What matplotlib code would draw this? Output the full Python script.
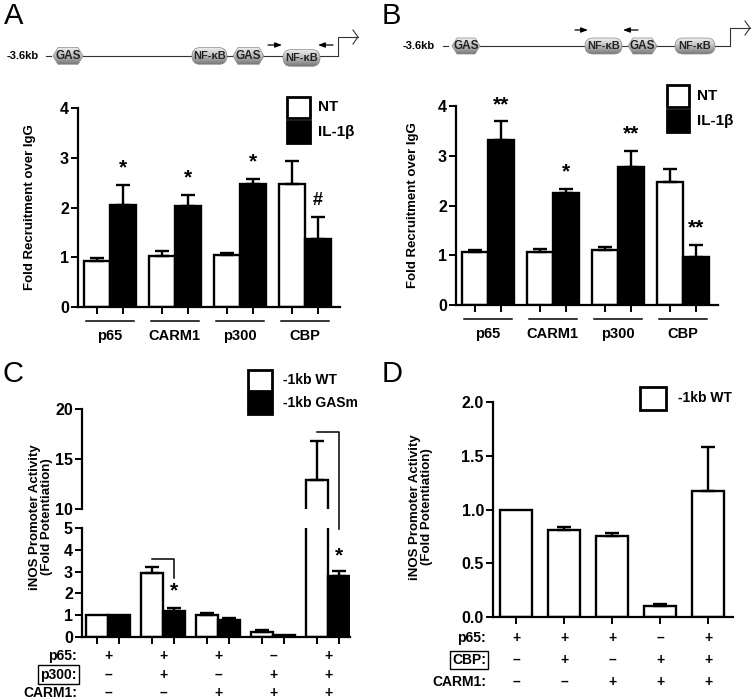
import matplotlib
matplotlib.use("Agg")
import matplotlib.pyplot as plt
import matplotlib.transforms as mtransforms
from matplotlib.patches import Rectangle, Polygon, FancyBboxPatch
from matplotlib.colors import LinearSegmentedColormap
import numpy as np

plt.rcParams['font.family'] = ['Liberation Sans', 'DejaVu Sans']
plt.rcParams['font.weight'] = 'bold'

# ---------------------------------------------------------------------
# data
groups_ab = ["p65", "CARM1", "p300", "CBP"]

a_nt = [0.92, 1.02, 1.05, 2.47]
a_nt_err = [0.06, 0.10, 0.04, 0.46]
a_il = [2.06, 2.03, 2.47, 1.36]
a_il_err = [0.40, 0.22, 0.10, 0.45]
a_marks = ["*", "*", "*", "#"]

b_nt = [1.07, 1.06, 1.10, 2.47]
b_nt_err = [0.04, 0.06, 0.07, 0.27]
b_il = [3.31, 2.25, 2.78, 0.97]
b_il_err = [0.38, 0.08, 0.31, 0.24]
b_marks = ["**", "*", "**", "**"]

c_wt = [1.0, 2.92, 1.03, 0.22, 12.9]
c_wt_err = [0.0, 0.30, 0.09, 0.11, 3.9]
c_gas = [1.0, 1.18, 0.78, 0.07, 2.8]
c_gas_err = [0.0, 0.17, 0.10, 0.0, 0.25]
c_rows = ["p65:", "p300:", "CARM1:"]
c_signs = [["+", "+", "+", "\u2013", "+"],
           ["\u2013", "+", "\u2013", "+", "+"],
           ["\u2013", "\u2013", "+", "+", "+"]]

d_wt = [1.0, 0.81, 0.75, 0.10, 1.17]
d_wt_err = [0.0, 0.03, 0.03, 0.02, 0.41]
d_rows = ["p65:", "CBP:", "CARM1:"]
d_signs = [["+", "+", "+", "\u2013", "+"],
           ["\u2013", "+", "\u2013", "+", "+"],
           ["\u2013", "\u2013", "+", "+", "+"]]

# ---------------------------------------------------------------------
W, H = 754, 700
fig = plt.figure(figsize=(W / 100, H / 100), dpi=100)


def px_axes(left, top, right, bottom):
    """axes placed by pixel box"""
    return fig.add_axes([left / W, 1 - bottom / H, (right - left) / W, (bottom - top) / H])


def style_axes(ax, bottom=True):
    for s in ["top", "right"]:
        ax.spines[s].set_visible(False)
    ax.spines["left"].set_linewidth(1.6)
    ax.spines["bottom"].set_linewidth(1.6)
    if not bottom:
        ax.spines["bottom"].set_visible(False)
        ax.tick_params(axis="x", bottom=False, labelbottom=False)
    ax.tick_params(axis="y", length=5, width=1.4, labelsize=11.5, pad=1.5)
    ax.tick_params(axis="x", length=5, width=1.4, labelbottom=False)


def draw_bars(ax, pos, vals, errs, color, width):
    ax.bar(pos, vals, width, color=color, edgecolor="black", linewidth=1.7, zorder=2)
    pos = np.asarray(pos, float)
    vals = np.asarray(vals, float)
    errs = np.asarray(errs, float)
    m = errs > 0
    ax.errorbar(pos[m], vals[m], yerr=[np.zeros(m.sum()), errs[m]], fmt="none",
                ecolor="black", elinewidth=1.7, capsize=5, capthick=1.7, zorder=3)


def below(ax, px):
    return mtransforms.offset_copy(ax.get_xaxis_transform(), fig=fig, x=0, y=-px, units="dots")


def mark(ax, x, y, s, dy=17):
    ax.annotate(s, (x, y), xytext=(0, dy), textcoords="offset pixels", ha="center",
                va="center", fontsize=15 if "*" in s else 13, annotation_clip=False)


def ab_panel(box, nt, nt_err, il, il_err, marks):
    ax = px_axes(*box)
    style_axes(ax)
    x = np.arange(len(groups_ab))
    draw_bars(ax, x - 0.2, nt, nt_err, "white", 0.4)
    draw_bars(ax, x + 0.2, il, il_err, "black", 0.4)
    for i, s in enumerate(marks):
        mark(ax, x[i] + 0.2, il[i] + il_err[i], s, dy=17 if s != "#" else 16)
    ax.set_xlim(-0.49, 3.54)
    ax.set_ylim(0, 4)
    ax.set_yticks([0, 1, 2, 3, 4])
    ax.set_xticks(np.concatenate([x - 0.2, x + 0.2]))
    for i, g in enumerate(groups_ab):
        ax.plot([x[i] - 0.36, x[i] + 0.37], [0, 0], color="black", lw=1.1,
                transform=below(ax, 14), clip_on=False)
        ax.text(x[i], 0, g, transform=below(ax, 29), ha="center", va="center", fontsize=10.5)
    return ax


ax_a = ab_panel((78, 108, 340, 307), a_nt, a_nt_err, a_il, a_il_err, a_marks)
ax_b = ab_panel((456, 106, 718, 305), b_nt, b_nt_err, b_il, b_il_err, b_marks)

# ---------------------------------------------------------------------
# panel C, broken axis
ax_cu = px_axes(82, 409, 350, 509)
ax_cl = px_axes(82, 528, 350, 637)
style_axes(ax_cu, bottom=False)
style_axes(ax_cl)
xc = np.arange(len(c_wt))
for ax in (ax_cu, ax_cl):
    draw_bars(ax, xc - 0.2, c_wt, c_wt_err, "white", 0.4)
    draw_bars(ax, xc + 0.2, c_gas, c_gas_err, "black", 0.4)
    ax.set_xlim(-0.48, 4.4)
ax_cu.set_ylim(10, 20)
ax_cu.set_yticks([10, 15, 20])
ax_cl.set_ylim(0, 5)
ax_cl.set_yticks([0, 1, 2, 3, 4, 5])
ax_cl.set_xticks(np.concatenate([xc - 0.2, xc + 0.2]))

# significance brackets
ax_cl.plot([xc[1] - 0.2, xc[1] + 0.2, xc[1] + 0.2], [3.58, 3.58, 2.7], color="black", lw=1.1, zorder=4)
mark(ax_cl, xc[1] + 0.2, c_gas[1] + c_gas_err[1], "*", dy=17)
y_up = ax_cl.transData.inverted().transform(ax_cu.transData.transform((0, 17.7)))[1]
ax_cl.plot([xc[4] - 0.2, xc[4] + 0.2, xc[4] + 0.2], [y_up, y_up, 4.95], color="black", lw=1.1,
           clip_on=False, zorder=4)
mark(ax_cl, xc[4] + 0.2, c_gas[4] + c_gas_err[4], "*", dy=15)

for r, signs in enumerate(c_signs):
    for i, s in enumerate(signs):
        ax_cl.text(xc[i], 0, s, transform=below(ax_cl, 19 + 18.5 * r), ha="center", va="center", fontsize=10)

# ---------------------------------------------------------------------
# panel D
ax_d = px_axes(493, 402, 733, 617)
style_axes(ax_d)
xd = np.arange(len(d_wt))
draw_bars(ax_d, xd, d_wt, d_wt_err, "white", 0.67)
ax_d.set_xlim(-0.48, 4.52)
ax_d.set_ylim(0, 2)
ax_d.set_yticks([0, 0.5, 1.0, 1.5, 2.0])
ax_d.set_yticklabels(["0.0", "0.5", "1.0", "1.5", "2.0"])
ax_d.set_xticks(xd)
for r, signs in enumerate(d_signs):
    for i, s in enumerate(signs):
        ax_d.text(xd[i], 0, s, transform=below(ax_d, 21 + 22 * r), ha="center", va="center", fontsize=10)

# ---------------------------------------------------------------------
# overlay in pixel coordinates
ov = fig.add_axes([0, 0, 1, 1])
ov.set_xlim(0, W)
ov.set_ylim(H, 0)
ov.axis("off")

for s, x, y in [("A", 4, 16), ("B", 382, 16), ("C", 2, 374), ("D", 382, 374)]:
    ov.text(x, y, s, fontsize=21, fontweight="normal", va="center", ha="left")

ov.text(30, 207, "Fold Recruitment over IgG", rotation=90, ha="center", va="center", fontsize=9.5)
ov.text(413, 205, "Fold Recruitment over IgG", rotation=90, ha="center", va="center", fontsize=9.5)
ov.text(41, 517, "iNOS Promoter Activity\n(Fold Potentiation)", rotation=90, ha="center",
        va="center", fontsize=9.5, linespacing=1.0)
ov.text(421, 507, "iNOS Promoter Activity\n(Fold Potentiation)", rotation=90, ha="center",
        va="center", fontsize=9.5, linespacing=1.0)


def legend_box(x, y, w, h, fc):
    ov.add_patch(Rectangle((x, y), w, h, facecolor=fc, edgecolor="black", lw=2.0))


legend_box(287, 97, 23, 21, "white")
legend_box(287, 121, 23, 22, "black")
ov.text(318, 107, "NT", va="center", fontsize=11)
ov.text(318, 132, "IL-1\u03b2", va="center", fontsize=11)
legend_box(667, 85, 22, 22, "white")
legend_box(667, 110, 22, 22, "black")
ov.text(697, 96, "NT", va="center", fontsize=11)
ov.text(697, 121, "IL-1\u03b2", va="center", fontsize=11)
legend_box(248, 370, 24, 21, "white")
legend_box(248, 393, 24, 21, "black")
ov.text(283, 380, "-1kb WT", va="center", fontsize=10)
ov.text(283, 403, "-1kb GASm", va="center", fontsize=10)
legend_box(640, 387, 26, 23, "white")
ov.text(678, 398, "-1kb WT", va="center", fontsize=10)

# row labels under C and D
for r, lab in enumerate(c_rows):
    box = dict(boxstyle="square,pad=0.15", fc="none", ec="black", lw=1.0) if lab == "p300:" else None
    ov.text(77, 656 + 18.5 * r, lab, ha="right", va="center", fontsize=10, bbox=box)
for r, lab in enumerate(d_rows):
    box = dict(boxstyle="square,pad=0.15", fc="none", ec="black", lw=1.0) if lab == "CBP:" else None
    ov.text(486, 638 + 22 * r, lab, ha="right", va="center", fontsize=10, bbox=box)

# ---------------------------------------------------------------------
# promoter diagrams
grad = LinearSegmentedColormap.from_list("g", ["#f0f0f0", "#bcbcbc", "#7a7a7a"])
gcol = np.linspace(0, 1, 50).reshape(-1, 1)


def shaded(patch, x0, x1, y0, y1):
    patch.set_facecolor("none")
    patch.set_edgecolor("#8a8a8a")
    patch.set_linewidth(0.5)
    ov.add_patch(patch)
    im = ov.imshow(gcol, cmap=grad, extent=(x0, x1, y1, y0), aspect="auto", zorder=2)
    im.set_clip_path(patch)
    patch.set_zorder(3)


def gas(x0, x1, yc, h):
    y0, y1 = yc - h / 2, yc + h / 2
    pts = [(x0, yc), (x0 + 5, y0), (x1 - 5, y0), (x1, yc), (x1 - 5, y1), (x0 + 5, y1)]
    shaded(Polygon(pts, closed=True), x0, x1, y0, y1)
    ov.text((x0 + x1) / 2, yc, "GAS", ha="center", va="center", fontsize=8.5, color="#222222", zorder=4)


def nfkb(x0, x1, yc, h):
    y0 = yc - h / 2
    p = FancyBboxPatch((x0, y0), x1 - x0, h, boxstyle="round,pad=0,rounding_size=%f" % (h / 2))
    shaded(p, x0, x1, y0, y0 + h)
    ov.text((x0 + x1) / 2, yc, "NF-\u03baB", ha="center", va="center", fontsize=8, color="#222222", zorder=4)


def arrow(x0, x1, y):
    ov.annotate("", (x1, y), xytext=(x0, y),
                arrowprops=dict(arrowstyle="-|>,head_length=0.4,head_width=0.15", color="black",
                                lw=0.9, shrinkA=0, shrinkB=0))


def tss(x0, y0, y1, x1):
    ov.plot([x0, x0, x1], [y0, y1, y1], color="#333333", lw=0.8)
    ov.plot([x1 - 5, x1, x1 - 5], [y1 - 7, y1, y1 + 7], color="#333333", lw=0.8)


# diagram A
ov.text(7, 56, "-3.6kb", ha="left", va="center", fontsize=8)
ov.plot([46, 51], [56, 56], color="#333333", lw=0.8)
ov.plot([83, 338], [56, 56], color="#333333", lw=0.8, zorder=1)
gas(53, 83, 56, 17)
nfkb(192, 227, 56, 17)
gas(233, 264, 56, 17)
nfkb(283, 320, 58, 17)
tss(338, 56, 37, 358)
arrow(268, 282, 45)
arrow(333, 318, 45)

# diagram B
ov.text(403, 46, "-3.6kb", ha="left", va="center", fontsize=8)
ov.plot([443, 448], [46, 46], color="#333333", lw=0.8)
ov.plot([480, 730], [46, 46], color="#333333", lw=0.8, zorder=1)
gas(452, 480, 46, 16)
nfkb(585, 622, 46, 16)
gas(628, 657, 46, 16)
nfkb(675, 715, 46, 16)
tss(730, 46, 28, 750)
arrow(575, 588, 30)
arrow(638, 623, 30)

ov.set_xlim(0, W)
ov.set_ylim(H, 0)

fig.savefig("out.png", dpi=100)
